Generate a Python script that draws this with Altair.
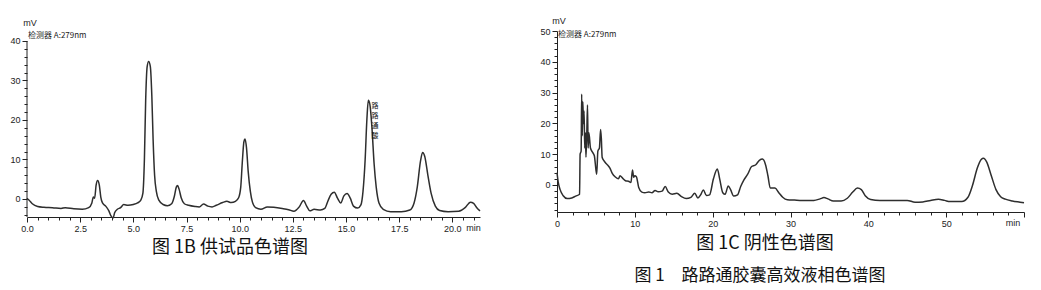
import altair as alt
import pandas as pd

# ---------------- Data ----------------
# Fig 1B  sample chromatogram (time in min, signal in mV)
b_time = [0.0, 0.1, 0.25, 0.5, 0.8, 1.2, 1.6, 1.8, 2.2, 2.6, 2.9, 3.05, 3.12, 3.18, 3.25, 3.32,
          3.4, 3.47, 3.55, 3.7, 3.85, 3.95, 4.05, 4.12, 4.25, 4.4, 4.55, 4.75, 5.0, 5.2, 5.35,
          5.45, 5.52, 5.58, 5.65, 5.72, 5.8, 5.87, 5.93, 6.0, 6.08, 6.2, 6.4, 6.6, 6.8, 6.92,
          7.02, 7.08, 7.15, 7.25, 7.4, 7.6, 7.9, 8.1, 8.3, 8.5, 8.7, 8.9, 9.2, 9.4, 9.6, 9.8,
          9.95, 10.05, 10.12, 10.2, 10.25, 10.32, 10.4, 10.5, 10.6, 10.75, 11.0, 11.3, 11.6,
          12.0, 12.3, 12.55, 12.8, 13.0, 13.15, 13.3, 13.5, 13.8, 14.0, 14.15, 14.3, 14.45,
          14.6, 14.75, 14.9, 15.05, 15.2, 15.35, 15.55, 15.7, 15.8, 15.9, 15.98, 16.05, 16.12,
          16.22, 16.32, 16.42, 16.55, 16.75, 17.1, 17.6, 18.0, 18.2, 18.35, 18.5, 18.6, 18.7,
          18.85, 19.0, 19.2, 19.4, 19.8, 20.3, 20.6, 20.85, 21.0, 21.15, 21.3]
b_mv = [0.2, -0.3, -1.2, -1.9, -2.1, -2.2, -2.4, -2.2, -2.5, -2.6, -2.2, -1.0, 0.5, 0.2, 3.5, 4.7,
        3.5, 0.5, -1.0, -1.8, -3.0, -4.3, -4.8, -3.5, -2.6, -2.2, -1.4, -1.6, -1.4, -1.0, -0.3,
        1.5, 10.0, 25.0, 33.5, 34.8, 33.5, 26.0, 15.0, 6.0, 2.0, -0.3, -1.4, -1.7, -1.2, 0.5,
        3.0, 3.4, 2.5, 0.3, -1.2, -1.6, -1.9, -2.0, -1.3, -1.8, -2.0, -1.6, -0.9, -0.6, -0.9, -0.6,
        0.3, 3.0, 9.0, 14.5, 15.2, 13.0, 7.0, 2.0, -0.8, -2.2, -2.6, -2.0, -2.1,
        -2.4, -2.7, -3.1, -2.0, -0.4, -1.8, -3.0, -2.6, -2.8, -2.4, -0.5, 1.2, 1.7,
        0.2, -1.0, 0.8, 1.4, 0.2, -1.8, -2.3, -1.5, 2.0, 10.0, 20.0, 25.0, 24.0,
        18.0, 9.0, 3.0, -1.0, -2.6, -3.2, -3.2, -2.8, -1.0, 3.0, 9.5, 11.8, 10.8,
        6.0, 1.5, -1.8, -2.9, -3.2, -3.1, -2.2, -0.8, -1.1, -2.2, -3.0]

# Fig 1C  negative control chromatogram
c_time = [0.0, 0.15, 0.4, 0.8, 1.3, 1.9, 2.4, 2.9, 2.97, 3.1, 3.17, 3.25, 3.32, 3.4, 3.48, 3.56,
          3.65, 3.72, 3.82, 3.92, 4.0, 4.1, 4.3, 4.6, 4.8, 5.0, 5.1, 5.25, 5.45, 5.6, 5.7, 5.8,
          6.0, 6.3, 6.5, 6.8, 7.1, 7.5, 7.9, 8.1, 8.4, 8.8, 9.2, 9.5, 9.7, 9.85, 10.0, 10.2,
          10.5, 10.9, 11.3, 11.8, 12.2, 12.6, 13.0, 13.5, 13.9, 14.3, 14.8, 15.4, 16.0, 16.6,
          17.2, 17.7, 18.1, 18.5, 18.8, 19.2, 19.6, 20.1, 20.6, 20.9, 21.3, 21.6, 22.0, 22.3,
          22.7, 23.2, 23.6, 24.0, 24.5, 25.0, 25.5, 26.0, 26.4, 26.8, 27.1, 27.4, 28.0, 28.5,
          29.0, 29.6, 30.5, 31.5, 33.0, 33.8, 34.3, 34.8, 35.5, 36.5, 37.3, 38.0, 38.6, 39.1,
          39.6, 40.3, 41.5, 43.0, 45.0, 46.0, 47.0, 48.0, 49.0, 49.8, 50.5, 52.0, 52.8, 53.4,
          54.0, 54.5, 54.8, 55.2, 55.8, 56.4, 57.0, 57.6, 58.5, 59.5, 60.0]
c_mv = [4.0, 1.0, -1.5, -3.5, -4.4, -4.2, -3.6, -3.0, 10.0, 11.0, 29.5, 16.0, 27.0, 20.0, 24.0, 12.0,
        17.0, 9.0, 16.0, 26.0, 12.0, 17.0, 12.0, 10.5, 9.5, 5.0, 3.5, 11.0, 12.0, 18.0, 15.0, 9.0,
        8.0, 7.0, 6.5, 5.5, 3.8, 2.6, 2.0, 3.0, 2.3, 1.4, 1.2, 0.8, 4.9, 2.5, 3.0, 2.7,
        -0.8, -2.3, -2.5, -2.3, -2.5, -1.8, -2.2, -2.0, -0.5, -2.3, -3.0, -2.7, -3.8, -4.4,
        -4.0, -2.7, -4.2, -3.0, -1.6, -3.4, -3.2, 2.0, 5.2, 2.0, -2.5, -3.0, -0.3, -1.5,
        -3.6, -3.2, -0.5, 1.6, 3.5, 6.0, 6.5, 8.0, 8.4, 6.5, 3.0, -1.0, -1.0, -2.5,
        -4.0, -4.8, -4.9, -5.0, -5.0, -4.5, -4.1, -4.5, -5.2, -5.2, -4.3, -2.3, -1.0, -1.5,
        -3.5, -4.7, -5.0, -5.0, -5.0, -5.6, -5.5, -5.0, -4.6, -5.0, -5.4, -5.4, -4.0, 0.0,
        5.5, 8.3, 8.7, 7.5, 3.0, -1.5, -3.8, -4.6, -5.2, -5.6, -5.8]

# Axis ticks (major ticks are labelled)
b_x_ticks = [i * 0.5 for i in range(0, 43)]
b_y_ticks = [v for v in range(-4, 41, 2)]
c_x_ticks = [v for v in range(0, 61, 2)]
c_y_ticks = [v for v in range(-8, 51, 2)]

detector_label = "检测器 A:279nm"
unit_label = "mV"
time_unit = "min"
peak_label = "路\n路\n通\n酸"
caption_b = "图 1B 供试品色谱图"
caption_c = "图 1C 阴性色谱图"
caption_fig = "图 1\u3000路路通胶囊高效液相色谱图"

LINE = "#2e2e2e"
AX = "#222222"
TICKFONT = "Liberation Sans"
CJK = "Noto Sans CJK SC"

dfB = pd.DataFrame({"t": b_time, "mv": b_mv})
dfC = pd.DataFrame({"t": c_time, "mv": c_mv})
one = pd.DataFrame({"a": [0]})


def make_axis(values, label_expr, major_test, domain=True):
    return alt.Axis(
        values=values, labelExpr=label_expr, title=None, grid=False, domain=domain,
        tickSize={"condition": {"test": major_test, "value": 5}, "value": 3},
        tickColor=AX, domainColor=AX, labelColor=AX, labelFont=TICKFONT,
        labelFontSize=9, labelPadding=2, labelFlush=False, labelOverlap=False,
        labelBound=False,
    )


# ---------------- Panel B ----------------
WB, HB = 453, 186
xB = alt.X("t:Q", scale=alt.Scale(domain=[0, 21.3], nice=False, zero=False),
           axis=make_axis(b_x_ticks, "datum.value % 2.5 == 0 ? format(datum.value, '.1f') : ''",
                          "datum.value % 2.5 == 0"))
yB = alt.Y("mv:Q", scale=alt.Scale(domain=[-4.56, 42.53], nice=False, zero=False),
           axis=make_axis(b_y_ticks, "datum.value % 10 == 0 && datum.value >= 0 ? format(datum.value, 'd') : ''",
                          "datum.value % 10 == 0", domain=False))

# invisible frame that fixes the canvas to 1041 x 290 (origin of panel B at 27, 31)
frame = alt.Chart(one).mark_rect(opacity=0).encode(
    x=alt.value(-27), x2=alt.value(1014), y=alt.value(-31), y2=alt.value(259))

lineB = alt.Chart(dfB).mark_line(color=LINE, strokeWidth=1.5, interpolate="monotone").encode(x=xB, y=yB)
ruleB = alt.Chart(one).mark_rule(color=AX, strokeWidth=1).encode(
    x=alt.value(0), y=alt.value(10), y2=alt.value(HB))

mvB = alt.Chart(pd.DataFrame({"s": [unit_label]})).mark_text(
    font=TICKFONT, fontSize=9, color=AX, align="center", baseline="bottom").encode(
    text="s:N", x=alt.value(3), y=alt.value(-3))
detB = alt.Chart(pd.DataFrame({"s": [detector_label]})).mark_text(
    font=CJK, fontSize=8, color=AX, align="left", baseline="bottom").encode(
    text="s:N", x=alt.value(1), y=alt.value(9))
minB = alt.Chart(pd.DataFrame({"s": [time_unit], "t": [21.0]})).mark_text(
    font=TICKFONT, fontSize=9, color=AX, align="center", baseline="top").encode(
    text="s:N", x=xB, y=alt.value(HB + 7))
peakB = alt.Chart(pd.DataFrame({"s": [peak_label], "t": [16.15], "mv": [24.5]})).mark_text(
    font=CJK, fontSize=7, color="#111", align="left", baseline="top", lineBreak="\n", lineHeight=10, dx=1).encode(
    text="s:N", x=xB, y=yB)
capB = alt.Chart(pd.DataFrame({"s": [caption_b]})).mark_text(
    font=CJK, fontSize=18, color="#111", align="center", baseline="middle").encode(
    text="s:N", x=alt.value(203), y=alt.value(217))

panelB = alt.layer(frame, lineB, ruleB, mvB, detB, minB, peakB, capB).properties(width=WB, height=HB)

# ---------------- Panel C ----------------
WC, HC = 467, 181
xC = alt.X("t:Q", scale=alt.Scale(domain=[0, 60], nice=False, zero=False),
           axis=make_axis(c_x_ticks, "datum.value % 10 == 0 && datum.value < 60 ? format(datum.value, 'd') : ''",
                          "datum.value % 10 == 0"))
yC = alt.Y("mv:Q", scale=alt.Scale(domain=[-8.77, 50], nice=False, zero=False),
           axis=make_axis(c_y_ticks, "datum.value % 10 == 0 && datum.value >= 0 ? format(datum.value, 'd') : ''",
                          "datum.value % 10 == 0"))

lineC = alt.Chart(dfC).mark_line(color=LINE, strokeWidth=1.5, interpolate="monotone").encode(x=xC, y=yC)
mvC = alt.Chart(pd.DataFrame({"s": [unit_label]})).mark_text(
    font=TICKFONT, fontSize=9, color=AX, align="center", baseline="bottom").encode(
    text="s:N", x=alt.value(2), y=alt.value(-5))
detC = alt.Chart(pd.DataFrame({"s": [detector_label]})).mark_text(
    font=CJK, fontSize=8, color=AX, align="left", baseline="bottom").encode(
    text="s:N", x=alt.value(1), y=alt.value(8))
minC = alt.Chart(pd.DataFrame({"s": [time_unit], "t": [58.6]})).mark_text(
    font=TICKFONT, fontSize=9, color=AX, align="center", baseline="top").encode(
    text="s:N", x=xC, y=alt.value(HC + 7))
capC = alt.Chart(pd.DataFrame({"s": [caption_c]})).mark_text(
    font=CJK, fontSize=18, color="#111", align="center", baseline="middle").encode(
    text="s:N", x=alt.value(208), y=alt.value(213))
capF = alt.Chart(pd.DataFrame({"s": [caption_fig]})).mark_text(
    font=CJK, fontSize=17, color="#111", align="center", baseline="middle").encode(
    text="s:N", x=alt.value(203), y=alt.value(245))

panelC = alt.layer(lineC, mvC, detC, minC, capC, capF).properties(width=WC, height=HC)

chart = alt.hconcat(panelB, panelC, spacing=77, bounds="flush").properties(
    padding=0,
    background="white",
).configure_view(stroke=None)

chart.save("out.html", embed_options={"renderer": "svg", "actions": False})
